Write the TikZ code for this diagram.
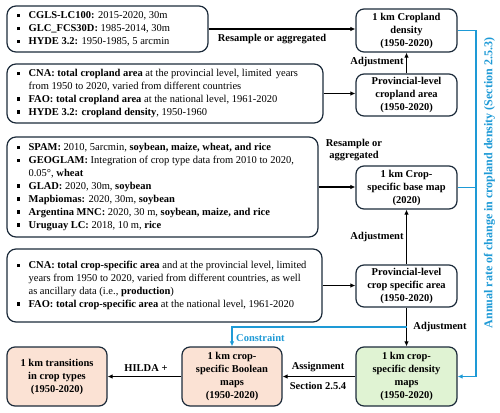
\documentclass[tikz,border=0pt]{standalone}
\usepackage{fontspec}
\setmainfont{Liberation Serif}
\usetikzlibrary{arrows.meta}
\definecolor{navy}{HTML}{1C2B3A}
\definecolor{pinkf}{HTML}{FBE2D4}
\definecolor{greenf}{HTML}{E0F3D3}
\definecolor{bluel}{HTML}{1E9AD6}
\newcommand\bul{\makebox[12pt][l]{\rule[1.6pt]{3.4pt}{3.4pt}}}
\newcommand\ind{\hspace*{12pt}}
\tikzset{
  srcbox/.style={draw=navy, line width=1.2pt, rounded corners=9pt, inner sep=0pt},
  srctext/.style={anchor=west, align=left, inner sep=0pt, font=\fontsize{10.5}{12.9}\selectfont},
  tgt/.style={draw=navy, line width=1.2pt, rounded corners=8pt, minimum width=101pt, align=center, inner sep=1pt, font=\bfseries\fontsize{10.5}{13}\selectfont},
  lbl/.style={font=\bfseries\fontsize{10.5}{12.5}\selectfont, inner sep=0pt, align=center},
  conn/.style={line width=1.2pt, black, -{Latex[length=5pt,width=4.5pt]}},
  bconn/.style={line width=1.2pt, bluel},
}
\begin{document}
\begin{tikzpicture}[x=1pt,y=-1pt]
\useasboundingbox (0,0) rectangle (500,412);
% source boxes
\node[srcbox, minimum width=201pt, minimum height=46pt] (s1) at (107.5,29) {};
\node[srctext] (s1t) at ([xshift=10pt]s1.west) {\bul\textbf{CGLS-LC100:} 2015-2020, 30m\\
\bul\textbf{GLC\_FCS30D:} 1985-2014, 30m\\
\bul\textbf{HYDE 3.2:} 1950-1985, 5 arcmin};
\node[srcbox, minimum width=316pt, minimum height=59pt] (s2) at (165,93.5) {};
\node[srctext] (s2t) at ([xshift=10pt]s2.west) {\bul\textbf{CNA: total cropland area} at the provincial level, limited \hspace{1.5pt}years\\
\ind from 1950 to 2020, varied from different countries\\
\bul\textbf{FAO: total cropland area} at the national level, 1961-2020\\
\bul\textbf{HYDE 3.2: cropland density}, 1950-1960};
\node[srcbox, minimum width=311pt, minimum height=100pt] (s3) at (162.5,187) {};
\node[srctext] (s3t) at ([xshift=10pt]s3.west) {\bul\textbf{SPAM:} 2010, 5arcmin, \textbf{soybean, maize, wheat, and rice}\\
\bul\textbf{GEOGLAM:} Integration of crop type data from 2010 to 2020,\\
\ind 0.05°, \textbf{wheat}\\
\bul\textbf{GLAD:} 2020, 30m, \textbf{soybean}\\
\bul\textbf{Mapbiomas:} 2020, 30m, \textbf{soybean}\\
\bul\textbf{Argentina MNC:} 2020, 30 m, \textbf{soybean, maize, and rice}\\
\bul\textbf{Uruguay LC:} 2018, 10 m, \textbf{rice}};
\node[srcbox, minimum width=315pt, minimum height=73pt] (s4) at (164.5,285.5) {};
\node[srctext] (s4t) at ([xshift=10pt]s4.west) {\bul\textbf{CNA: total crop-specific area} and at the provincial level, limited\\
\ind years from 1950 to 2020, varied from different countries, as well\\
\ind as ancillary data (i.e., \textbf{production})\\
\bul\textbf{FAO: total crop-specific area} at the national level, 1961-2020};
% target boxes
\node[tgt, minimum height=43pt] (cd) at (406.5,30.5) {1 km Cropland\\density\\(1950-2020)};
\node[tgt, minimum height=42pt] (pc) at (406.5,95) {Provincial-level\\cropland area\\(1950-2020)};
\node[tgt, minimum height=43pt] (bm) at (406.5,187.5) {1 km Crop-\\specific base map\\(2020)};
\node[tgt, minimum height=42pt] (ps) at (406.5,286) {Provincial-level\\crop specific area\\(1950-2020)};
\node[tgt, minimum height=59pt, fill=greenf] (gd) at (406.5,376.5) {1 km crop-\\specific density\\maps\\(1950-2020)};
\node[tgt, minimum width=100pt, minimum height=59pt, fill=pinkf] (pb) at (232,376.5) {1 km crop-\\specific Boolean\\maps\\(1950-2020)};
\node[tgt, minimum width=100pt, minimum height=59pt, fill=pinkf] (pt) at (57,376.5) {1 km transitions\\in crop types\\(1950-2020)};
% black connectors
\draw[conn] (s1.east) -- (s1.east -| cd.west);
\node[lbl] (l1) at (272,39.5) {Resample or aggregated};
\draw[conn] (s2.east) -- (s2.east -| pc.west);
\draw[conn] (pc) -- (cd);
\node[lbl] (l2) at (377,62) {Adjustment};
\draw[conn] (s3.east) -- (s3.east -| bm.west);
\node[lbl] (l3) at (354,150) {Resample or\\aggregated};
\draw[conn] (ps) -- (bm);
\node[lbl] (l4) at (377,237) {Adjustment};
\draw[conn] (s4.east) -- (s4.east -| ps.west);
\draw[conn] (ps) -- (gd);
\node[lbl] (l5) at (440,327) {Adjustment};
\draw[conn] (gd) -- (pb);
\node[lbl] (l6) at (318,367.5) {Assignment};
\node[lbl] (l7) at (318,386) {Section 2.5.4};
\draw[conn] (pb) -- (pt);
\node[lbl] (l8) at (146,368) {HILDA +};
% blue connectors
\coordinate (c1) at (406.5,327);
\coordinate (c2) at (476,0);
\draw[bconn, -{Latex[length=5pt,width=4.5pt]}] (c1) -- (c1 -| pb.north) -- (pb.north);
\node[lbl, text=bluel, anchor=west] (l9) at (236,337.5) {Constraint};
\draw[bconn, -{Latex[length=5pt,width=4.5pt]}] (cd.east) -- (cd.east -| c2) -- (gd.east -| c2) -- (gd.east);
\draw[bconn] (bm.east) -- (bm.east -| c2);
\node[lbl, text=bluel, rotate=90, font=\bfseries\fontsize{12}{14}\selectfont] (l10) at (489.5,183) {Annual rate of change in cropland density (Section 2.5.3)};
\end{tikzpicture}
\end{document}
